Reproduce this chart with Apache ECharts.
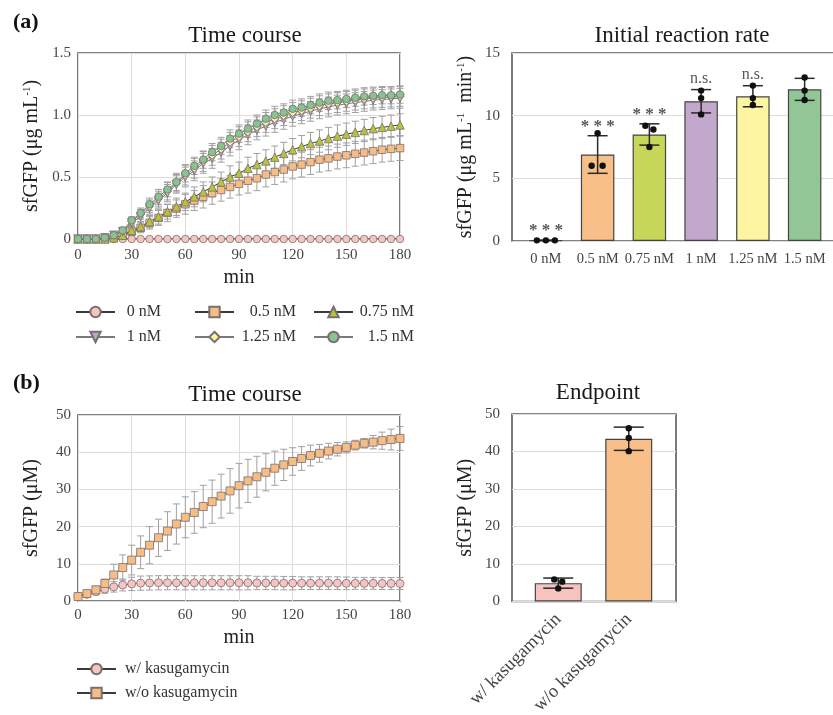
<!DOCTYPE html>
<html>
<head>
<meta charset="utf-8">
<script src="https://cdn.jsdelivr.net/npm/echarts@6/dist/echarts.min.js"></script>
<style>
html,body{margin:0;padding:0;background:#fff;}
#chart{width:833px;height:715px;}
</style>
</head>
<body>
<div id="chart"></div>
<script>
// ---------------- DATA ----------------
const timePoints = [0,5,10,15,20,25,30,35,40,45,50,55,60,65,70,75,80,85,90,95,100,105,110,115,120,125,130,135,140,145,150,155,160,165,170,175,180];

const seriesNamesA = ['0 nM','0.5 nM','0.75 nM','1 nM','1.25 nM','1.5 nM'];
const tc0  = [0,0,0,0,0,0,0,0,0,0,0,0,0,0,0,0,0,0,0,0,0,0,0,0,0,0,0,0,0,0,0,0,0,0,0,0,0];
const tc05 = [0,0,0,0,0.01,0.03,0.06,0.09,0.13,0.17,0.21,0.245,0.28,0.31,0.34,0.37,0.395,0.42,0.445,0.47,0.49,0.52,0.54,0.56,0.585,0.60,0.62,0.64,0.65,0.665,0.675,0.687,0.697,0.708,0.72,0.727,0.733];
const tc075= [0,0,0,0,0.01,0.03,0.07,0.10,0.14,0.18,0.22,0.26,0.30,0.34,0.38,0.42,0.46,0.50,0.53,0.57,0.60,0.63,0.66,0.69,0.72,0.745,0.77,0.79,0.81,0.83,0.845,0.86,0.875,0.89,0.90,0.91,0.92];
const tc1  = [0,0,0,0.01,0.03,0.06,0.13,0.18,0.25,0.31,0.37,0.44,0.50,0.55,0.61,0.65,0.70,0.75,0.80,0.84,0.88,0.91,0.94,0.965,0.99,1.01,1.03,1.05,1.065,1.08,1.09,1.10,1.11,1.12,1.125,1.13,1.135];
const tc125= [0,0,0,0.01,0.03,0.065,0.14,0.20,0.265,0.325,0.385,0.45,0.515,0.57,0.625,0.675,0.725,0.78,0.825,0.865,0.905,0.94,0.97,0.995,1.02,1.035,1.055,1.075,1.09,1.10,1.11,1.12,1.13,1.137,1.142,1.145,1.15];
const tc15 = [0,0,0,0.01,0.03,0.07,0.15,0.21,0.28,0.34,0.40,0.46,0.53,0.59,0.64,0.70,0.75,0.81,0.85,0.89,0.93,0.97,1.00,1.02,1.05,1.06,1.08,1.10,1.115,1.12,1.13,1.14,1.15,1.155,1.16,1.16,1.165];

const sd0  = [0,0,0,0,0,0,0,0,0,0,0,0,0,0,0,0,0,0,0,0,0,0,0,0,0,0,0,0,0,0,0,0,0,0,0,0,0];
const sd05 = [0,0,0,0,0.01,0.02,0.03,0.04,0.05,0.06,0.07,0.07,0.08,0.08,0.09,0.09,0.09,0.09,0.09,0.1,0.1,0.1,0.1,0.1,0.1,0.1,0.1,0.1,0.1,0.1,0.1,0.1,0.1,0.1,0.1,0.1,0.1];
const sd075= [0,0,0,0,0.01,0.02,0.03,0.04,0.05,0.06,0.06,0.07,0.07,0.08,0.08,0.08,0.08,0.09,0.09,0.09,0.09,0.09,0.09,0.09,0.09,0.09,0.09,0.09,0.09,0.09,0.09,0.09,0.09,0.09,0.09,0.09,0.09];
const sd1  = [0,0,0,0,0.01,0.02,0.03,0.04,0.05,0.06,0.07,0.07,0.08,0.08,0.08,0.08,0.08,0.08,0.08,0.08,0.08,0.08,0.08,0.08,0.08,0.08,0.08,0.08,0.08,0.08,0.08,0.08,0.08,0.08,0.08,0.08,0.08];
const sd125= [0,0,0,0,0.01,0.02,0.03,0.04,0.05,0.06,0.07,0.07,0.08,0.08,0.08,0.08,0.08,0.08,0.08,0.08,0.08,0.08,0.08,0.08,0.08,0.08,0.08,0.08,0.08,0.08,0.08,0.08,0.08,0.08,0.08,0.08,0.08];
const sd15 = [0,0,0,0,0.01,0.02,0.03,0.04,0.05,0.06,0.06,0.07,0.07,0.07,0.07,0.07,0.07,0.07,0.07,0.07,0.07,0.07,0.07,0.07,0.07,0.07,0.07,0.07,0.07,0.07,0.07,0.07,0.07,0.07,0.07,0.07,0.07];

const yTicksA = ['0','0.5','1.0','1.5'];

const rateCats = ['0 nM','0.5 nM','0.75 nM','1 nM','1.25 nM','1.5 nM'];
const rateMean = [0.05, 6.9, 8.5, 11.15, 11.55, 12.1];
const rateSD   = [0.02, 1.5, 0.85, 0.93, 0.84, 0.88];
const ratePoints = [[0.05,0.05,0.05],[8.6,6.0,6.0],[9.2,8.9,7.5],[12.0,11.4,10.1],[12.4,11.4,10.85],[13.05,12.0,11.25]];
const rateSig = ['***','***','***','n.s.','n.s.',''];

const seriesNamesB = ['w/ kasugamycin','w/o kasugamycin'];
const tcW  = [1.2,1.8,2.5,3.2,3.8,4.3,4.6,4.8,4.85,4.9,4.9,4.9,4.9,4.9,4.9,4.9,4.9,4.9,4.9,4.9,4.85,4.85,4.85,4.8,4.8,4.8,4.8,4.8,4.8,4.8,4.75,4.75,4.75,4.75,4.7,4.7,4.7];
const sdW  = [0.3,0.5,0.8,1.1,1.4,1.6,1.8,1.9,1.9,1.9,1.9,1.9,1.9,1.9,1.9,1.9,1.9,1.9,1.9,1.9,1.8,1.8,1.8,1.8,1.8,1.7,1.7,1.7,1.7,1.7,1.7,1.6,1.6,1.6,1.6,1.6,1.6];
const tcWo = [1.2,2.0,3.0,4.7,7.0,9.0,11.0,13.1,15.0,17.0,18.8,20.7,22.5,23.8,25.4,26.7,28.2,29.6,31.0,32.3,33.4,34.6,35.7,36.6,37.5,38.3,39.1,39.7,40.3,40.8,41.3,41.9,42.4,42.7,43.1,43.4,43.7];
const sdWo = [0.5,0.7,1.0,1.2,2.9,3.4,4.0,4.4,5.0,5.0,5.2,5.4,5.5,5.6,5.7,5.8,5.9,6.0,6.0,5.8,5.5,5.0,4.6,4.2,3.7,3.2,2.8,2.4,2.1,1.8,1.5,1.3,1.3,1.8,2.3,2.8,3.2];

const endCats = ['w/ kasugamycin','w/o kasugamycin'];
const endMean = [4.9, 43.4];
const endSD   = [1.35, 3.1];
const endPoints = [[5.9,5.3,3.5],[46.2,43.6,40.1]];

// ---------------- STYLE ----------------
const FONT = '"Liberation Serif","Times New Roman",serif';
const FRAME = '#5a5a5a';
const GRIDC = '#e2dada';
const LBL = '#454545';
const ERRC = '#a0a0a0';
const jitterA = [[-9,0,9],[0,-6,5],[-4,4,0],[0,0,0],[0,0,0],[0,0,0]];
const jitterB = [[-4,4,0],[0,0,0]];

function errRender(capHalf, color, width) {
  return function (params, api) {
    const x = api.value(0), lo = api.value(1), hi = api.value(2);
    if (!(hi - lo > 0)) return {type: 'group', children: []};
    const p1 = api.coord([x, hi]), p2 = api.coord([x, lo]);
    const st = {stroke: color, lineWidth: width};
    return {type: 'group', children: [
      {type: 'line', shape: {x1: p1[0], y1: p1[1], x2: p2[0], y2: p2[1]}, style: st},
      {type: 'line', shape: {x1: p1[0] - capHalf, y1: p1[1], x2: p1[0] + capHalf, y2: p1[1]}, style: st},
      {type: 'line', shape: {x1: p2[0] - capHalf, y1: p2[1], x2: p2[0] + capHalf, y2: p2[1]}, style: st}
    ]};
  };
}
function pointRender(jit, r) {
  return function (params, api) {
    const c = api.coord([api.value(0), api.value(1)]);
    const j = jit[api.value(0)][api.value(2)];
    return {type: 'circle', shape: {cx: c[0] + j, cy: c[1], r: r}, style: {fill: '#111'}};
  };
}
function sigRender(params, api) {
  const i = api.value(0);
  const c = api.coord([i, api.value(1)]);
  const star = rateSig[i] === '***';
  return {type: 'text', x: c[0], y: c[1] + (star ? -1 : -3), style: {
    text: star ? '* * *' : rateSig[i], fill: '#585858',
    font: (star ? 'bold 17px ' : '16px ') + FONT, align: 'center', verticalAlign: 'bottom'}};
}

const markerA = [
  {symbol: 'circle', size: 7.5, color: '#f7c5c1', line: '#3a3a3a'},
  {symbol: 'rect', size: 7.5, color: '#f8bd85', line: '#3a3a3a'},
  {symbol: 'triangle', size: 8.5, color: '#b6c43c', line: '#3a3a3a'},
  {symbol: 'path://M0,0 L10,0 L5,9 Z', size: 8.5, color: '#bba3d2', line: '#7a7a7a'},
  {symbol: 'diamond', size: 8, color: '#fff3a0', line: '#7a7a7a'},
  {symbol: 'circle', size: 7.5, color: '#87c48f', line: '#7a7a7a'}
];
const tcA = [tc0, tc05, tc075, tc1, tc125, tc15];
const sdA = [sd0, sd05, sd075, sd1, sd125, sd15];

const series = [];
tcA.forEach((arr, k) => {
  series.push({
    type: 'custom', name: 'errA' + k, xAxisIndex: 0, yAxisIndex: 0, z: 1,
    renderItem: errRender(3.5, ERRC, 1),
    encode: {x: 0, y: [1, 2]},
    data: timePoints.map((t, i) => [t, arr[i] - sdA[k][i], arr[i] + sdA[k][i]])
  });
});
tcA.forEach((arr, k) => {
  const m = markerA[k];
  series.push({
    type: 'line', name: seriesNamesA[k], xAxisIndex: 0, yAxisIndex: 0, z: 3,
    symbol: m.symbol, symbolSize: m.size, showAllSymbol: true,
    lineStyle: {color: m.line, width: 1},
    itemStyle: {color: m.color, borderColor: '#7a6f6f', borderWidth: 0.8},
    data: timePoints.map((t, i) => [t, arr[i]])
  });
});

const barColorsA = ['#f7c5c1', '#f8bf88', '#c6d75a', '#c3a8cd', '#fef5a2', '#93c697'];
series.push({
  type: 'bar', name: 'rateBar', xAxisIndex: 2, yAxisIndex: 2, barWidth: 33.5,
  data: rateMean.map((v, i) => ({value: v, itemStyle: {color: barColorsA[i]}})),
  itemStyle: {borderColor: '#444', borderWidth: 1.2}
});
series.push({
  type: 'custom', name: 'rateErr', xAxisIndex: 2, yAxisIndex: 2, z: 4,
  renderItem: errRender(10, '#2a2a2a', 1.5), encode: {x: 0, y: [1, 2]},
  data: rateMean.map((v, i) => [i, v - rateSD[i], v + rateSD[i]])
});
const rpData = [];
ratePoints.forEach((pts, i) => pts.forEach((v, j) => rpData.push([i, v, j])));
series.push({
  type: 'custom', name: 'ratePts', xAxisIndex: 2, yAxisIndex: 2, z: 5,
  renderItem: pointRender(jitterA, 3.2), encode: {x: 0, y: 1}, data: rpData
});
series.push({
  type: 'custom', name: 'rateSig', xAxisIndex: 2, yAxisIndex: 2, z: 5,
  renderItem: sigRender, encode: {x: 0, y: 1},
  data: rateMean.map((v, i) => [i, v + rateSD[i]])
});

const markerB = [
  {symbol: 'circle', size: 8, color: '#f7c5c1'},
  {symbol: 'rect', size: 8, color: '#f8bd85'}
];
const tcB = [tcW, tcWo];
const sdB = [sdW, sdWo];
tcB.forEach((arr, k) => {
  series.push({
    type: 'custom', name: 'errB' + k, xAxisIndex: 3, yAxisIndex: 3, z: 1,
    renderItem: errRender(3.5, ERRC, 1), encode: {x: 0, y: [1, 2]},
    data: timePoints.map((t, i) => [t, arr[i] - sdB[k][i], arr[i] + sdB[k][i]])
  });
});
tcB.forEach((arr, k) => {
  const m = markerB[k];
  series.push({
    type: 'line', name: seriesNamesB[k], xAxisIndex: 3, yAxisIndex: 3, z: 3,
    symbol: m.symbol, symbolSize: m.size, showAllSymbol: true,
    lineStyle: {color: '#3a3a3a', width: 1},
    itemStyle: {color: m.color, borderColor: '#7a6f6f', borderWidth: 0.8},
    data: timePoints.map((t, i) => [t, arr[i]])
  });
});

const barColorsB = ['#f7c3bf', '#f8bf89'];
series.push({
  type: 'bar', name: 'endBar', xAxisIndex: 5, yAxisIndex: 5, barWidth: 47,
  data: endMean.map((v, i) => ({value: v, itemStyle: {color: barColorsB[i]}})),
  itemStyle: {borderColor: '#444', borderWidth: 1.2}
});
series.push({
  type: 'custom', name: 'endErr', xAxisIndex: 5, yAxisIndex: 5, z: 4,
  renderItem: errRender(15, '#2a2a2a', 1.5), encode: {x: 0, y: [1, 2]},
  data: endMean.map((v, i) => [i, v - endSD[i], v + endSD[i]])
});
const epData = [];
endPoints.forEach((pts, i) => pts.forEach((v, j) => epData.push([i, v, j])));
series.push({
  type: 'custom', name: 'endPts', xAxisIndex: 5, yAxisIndex: 5, z: 5,
  renderItem: pointRender(jitterB, 3.2), encode: {x: 0, y: 1}, data: epData
});

// ---------------- AXES ----------------
const lbl = (size) => ({fontFamily: FONT, fontSize: size, color: LBL});
const hiddenVal = (grid) => ({type: 'value', gridIndex: grid, min: 0, max: 1, show: false});

const xAxis = [
  {type: 'value', gridIndex: 0, min: 0, max: 180, interval: 30,
   axisLine: {show: false}, axisTick: {show: false}, splitLine: {lineStyle: {color: GRIDC}},
   axisLabel: Object.assign({margin: 9}, lbl(15)),
   name: 'min', nameLocation: 'middle', nameGap: 29, nameTextStyle: {fontFamily: FONT, fontSize: 20, color: '#222'}},
  hiddenVal(1),
  {type: 'category', gridIndex: 2, data: rateCats,
   axisLine: {show: false}, axisTick: {show: false}, splitLine: {show: false},
   axisLabel: Object.assign({margin: 11, interval: 0}, lbl(14.5))},
  {type: 'value', gridIndex: 3, min: 0, max: 180, interval: 30,
   axisLine: {show: false}, axisTick: {show: false}, splitLine: {lineStyle: {color: GRIDC}},
   axisLabel: Object.assign({margin: 7}, lbl(15)),
   name: 'min', nameLocation: 'middle', nameGap: 27, nameTextStyle: {fontFamily: FONT, fontSize: 20, color: '#222'}},
  hiddenVal(4),
  {type: 'category', gridIndex: 5, data: endCats,
   axisLine: {show: false}, axisTick: {show: false}, splitLine: {show: false},
   axisLabel: Object.assign({margin: 15, interval: 0, rotate: 45}, lbl(18.5))}
];

const supRich = {sup: {fontFamily: FONT, fontSize: 11, color: '#222', verticalAlign: 'top', padding: [0, 0, 8, 0]}};
const yName = (txt, gap) => ({
  name: txt, nameLocation: 'middle', nameGap: gap, nameRotate: 90,
  nameTextStyle: {fontFamily: FONT, fontSize: 20, color: '#222', rich: supRich}
});

const yAxis = [
  Object.assign({type: 'value', gridIndex: 0, min: 0, max: 1.5, interval: 0.5,
   axisLine: {show: false}, axisTick: {show: false}, splitLine: {lineStyle: {color: GRIDC}},
   axisLabel: Object.assign({margin: 7, formatter: (v) => yTicksA[Math.round(v / 0.5)]}, lbl(15))},
   yName('sfGFP (μg mL{sup|-1})', 36)),
  Object.assign({type: 'value', gridIndex: 1, min: 0, max: 15, interval: 5,
   axisLine: {show: false}, axisTick: {show: false}, splitLine: {lineStyle: {color: GRIDC}},
   axisLabel: Object.assign({margin: 12}, lbl(15))},
   yName('sfGFP (μg mL{sup|-1}  min{sup|-1})', 36)),
  {type: 'value', gridIndex: 2, min: 0, max: 15, show: false},
  Object.assign({type: 'value', gridIndex: 3, min: 0, max: 50, interval: 10,
   axisLine: {show: false}, axisTick: {show: false}, splitLine: {lineStyle: {color: GRIDC}},
   axisLabel: Object.assign({margin: 7}, lbl(15))},
   yName('sfGFP (μM)', 36)),
  Object.assign({type: 'value', gridIndex: 4, min: 0, max: 50, interval: 10,
   axisLine: {show: false}, axisTick: {show: false}, splitLine: {lineStyle: {color: GRIDC}},
   axisLabel: Object.assign({margin: 12}, lbl(15))},
   yName('sfGFP (μM)', 36)),
  {type: 'value', gridIndex: 5, min: 0, max: 50, show: false}
];

const frame = {show: true, borderColor: FRAME, borderWidth: 1.6, backgroundColor: 'transparent'};
const noBounds = {outerBoundsMode: 'none', containLabel: false};
const grid = [
  Object.assign({left: 78, top: 53, width: 322, height: 186}, frame, noBounds),
  Object.assign({left: 512, top: 53, width: 345, height: 188}, frame, noBounds),
  Object.assign({left: 520, top: 53, width: 310.5, height: 188}, noBounds),
  Object.assign({left: 78, top: 415, width: 322, height: 186}, frame, noBounds),
  Object.assign({left: 512, top: 414, width: 164, height: 187.5}, frame, noBounds),
  Object.assign({left: 523, top: 414, width: 141, height: 187.5}, noBounds)
];

const titleStyle = {fontFamily: FONT, fontSize: 23, fontWeight: 'normal', color: '#1a1a1a'};
const title = [
  {text: '(a)', left: 8, top: 6, textStyle: {fontFamily: FONT, fontSize: 22, fontWeight: 'bold', color: '#111'}},
  {text: 'Time course', left: 240, top: 19, textAlign: 'center', textStyle: titleStyle},
  {text: 'Initial reaction rate', left: 677, top: 19, textAlign: 'center', textStyle: titleStyle},
  {text: '(b)', left: 8, top: 367, textStyle: {fontFamily: FONT, fontSize: 22, fontWeight: 'bold', color: '#111'}},
  {text: 'Time course', left: 240, top: 378, textAlign: 'center', textStyle: titleStyle},
  {text: 'Endpoint', left: 593, top: 376, textAlign: 'center', textStyle: titleStyle}
];

const legendText = (w, align, pad) => ({
  fontFamily: FONT, fontSize: 16, color: '#333',
  rich: {r: {fontFamily: FONT, fontSize: 16, color: '#333', width: w, align: align, padding: [0, 0, 0, pad || 0]}}
});
const legendBase = {orient: 'vertical', itemWidth: 39, itemHeight: 13, itemGap: 9};
const legend = [
  Object.assign({left: 70, top: 299, data: [seriesNamesA[0], seriesNamesA[3]],
    formatter: (n) => '{r|' + n + '}', textStyle: legendText(41, 'right')}, legendBase),
  Object.assign({left: 189, top: 299, data: [seriesNamesA[1], seriesNamesA[4]],
    formatter: (n) => '{r|' + n + '}', textStyle: legendText(57, 'right')}, legendBase),
  Object.assign({left: 308, top: 299, data: [seriesNamesA[2], seriesNamesA[5]],
    formatter: (n) => '{r|' + n + '}', textStyle: legendText(56, 'right')}, legendBase),
  Object.assign({left: 71, top: 656, data: seriesNamesB,
    formatter: (n) => '{r|' + n + '}', textStyle: legendText(120, 'left', 4)},
    legendBase, {itemGap: 8})
];

const chart = echarts.init(document.getElementById('chart'));
chart.setOption({
  backgroundColor: '#fff',
  animation: false,
  title, legend, grid, xAxis, yAxis, series
});
</script>
</body>
</html>
